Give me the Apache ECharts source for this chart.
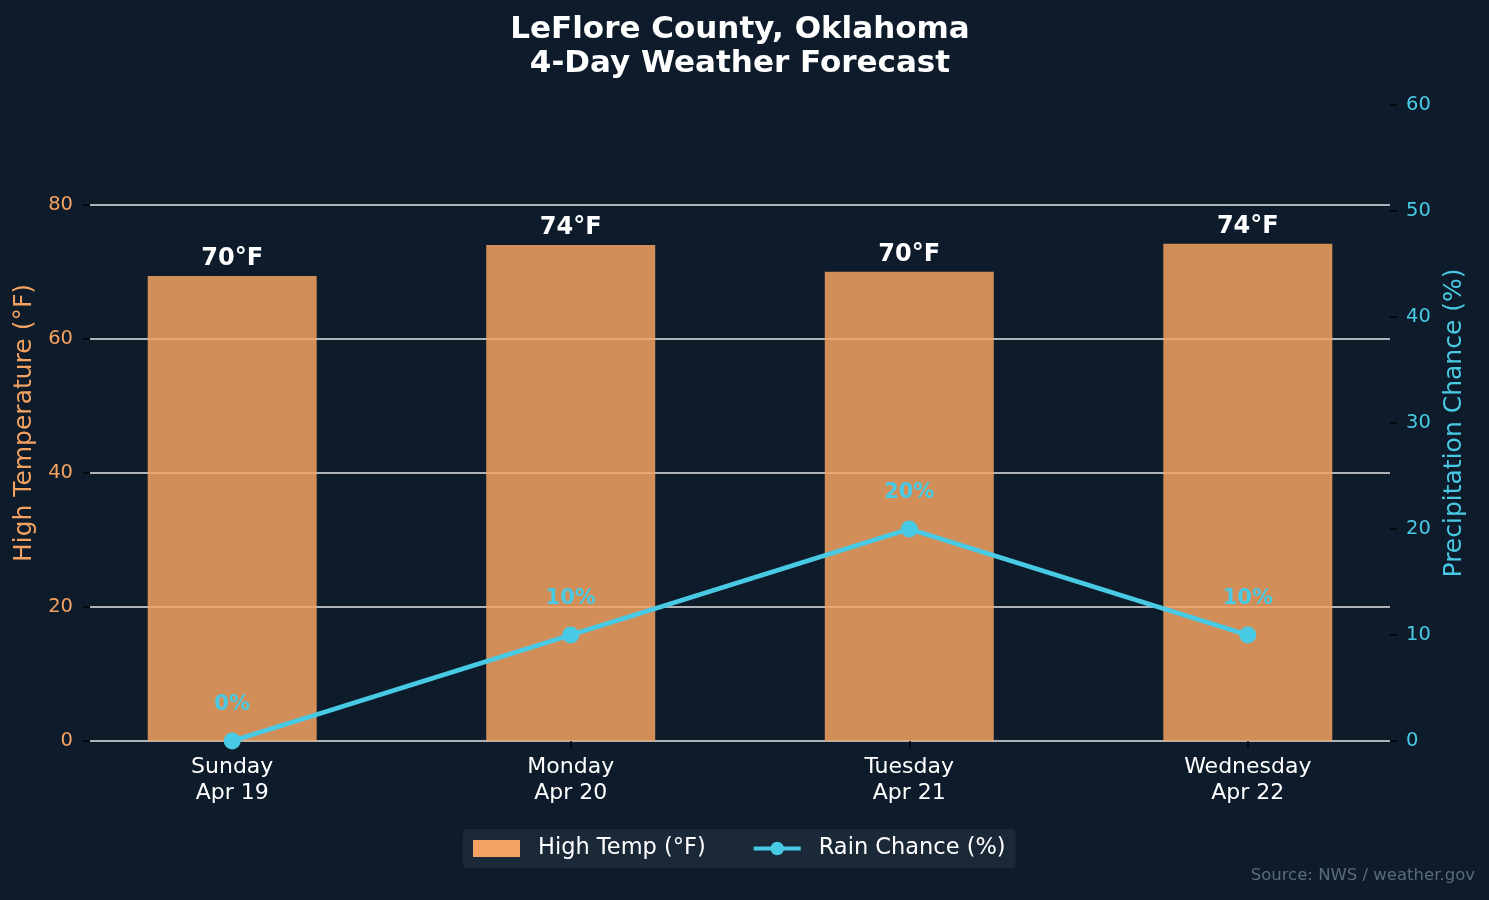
<!DOCTYPE html>
<html>
<head>
<meta charset="utf-8">
<script src="https://cdn.jsdelivr.net/npm/echarts@6/dist/echarts.min.js"></script>
<style>
  html, body { margin: 0; padding: 0; background: #0D1B2A; }
  #chart { width: 1489px; height: 900px; }
</style>
</head>
<body>
<div id="chart"></div>
<script>
const days = ["Sunday\nApr 19", "Monday\nApr 20", "Tuesday\nApr 21", "Wednesday\nApr 22"];
const highTemp = [69.4, 74.0, 70.0, 74.2];
const tempLabels = ["70°F", "74°F", "70°F", "74°F"];
const rainChance = [0, 10, 20, 10];
const tempTicks = [0, 20, 40, 60, 80];
const rainTicks = [0, 10, 20, 30, 40, 50, 60];

const font = "DejaVu Sans";
const orange = "#F4A261";
const cyan = "#48CAE4";

let myChart = echarts.init(document.getElementById("chart"));
let option = {
  backgroundColor: "#0D1B2A",
  textStyle: { fontFamily: font },
  title: {
    text: "LeFlore County, Oklahoma\n4-Day Weather Forecast",
    left: 740,
    textAlign: "center",
    top: 13,
    padding: 0,
    textStyle: { color: "#ffffff", fontSize: 31, fontWeight: "bold", lineHeight: 34, fontFamily: font }
  },
  legend: {
    bottom: 32,
    left: 463,
    orient: "horizontal",
    backgroundColor: "#1B2838",
    borderRadius: 4,
    padding: [8, 10, 8, 10],
    itemGap: 46,
    itemWidth: 47,
    itemHeight: 17,
    textStyle: { color: "#ffffff", fontSize: 22.5, fontFamily: font, padding: [0, 0, 0, 13] },
    data: [
      { name: "High Temp (°F)", icon: "rect", itemStyle: { color: orange, opacity: 1 } },
      { name: "Rain Chance (%)", lineStyle: { width: 4 } }
    ]
  },
  grid: { left: 90, right: 99, top: 105, bottom: 159 },
  xAxis: {
    type: "value",
    min: -0.42,
    max: 3.42,
    splitLine: { show: false },
    axisLine: { show: false, onZero: false },
    axisTick: { show: true, customValues: [0, 1, 2, 3], length: 7, lineStyle: { color: "#000000", width: 1.5 } },
    axisLabel: {
      customValues: [0, 1, 2, 3],
      formatter: v => days[Math.round(v)],
      color: "#ffffff",
      fontSize: 22,
      lineHeight: 26,
      margin: 13,
      fontFamily: font
    }
  },
  yAxis: [
    {
      type: "value",
      min: 0,
      max: 94.9,
      interval: 20,
      name: "High Temperature (°F)",
      nameLocation: "middle",
      nameGap: 51,
      nameTextStyle: { color: orange, fontSize: 25, fontFamily: font },
      axisLine: { show: false, onZero: false },
      axisTick: { show: true, customValues: tempTicks, length: 7, lineStyle: { color: "#000000", width: 1.5 } },
      axisLabel: { customValues: tempTicks, color: orange, fontSize: 19.5, margin: 17, fontFamily: font },
      splitLine: { show: true, lineStyle: { color: "#E4E4E4", width: 1.5 } }
    },
    {
      type: "value",
      min: 0,
      max: 60,
      interval: 10,
      name: "Precipitation Chance (%)",
      nameLocation: "middle",
      nameGap: 48,
      nameTextStyle: { color: cyan, fontSize: 25, fontFamily: font },
      axisLine: { show: false, onZero: false },
      axisTick: { show: true, customValues: rainTicks, length: 7, lineStyle: { color: "#000000", width: 1.5 } },
      axisLabel: { customValues: rainTicks, color: cyan, fontSize: 19.5, margin: 16, fontFamily: font },
      splitLine: { show: false }
    }
  ],
  series: [
    {
      name: "High Temp (°F)",
      type: "bar",
      yAxisIndex: 0,
      barWidth: 169,
      data: highTemp.map((v, i) => [i, v]),
      itemStyle: { color: "rgba(244,162,97,0.85)" },
      label: {
        show: true,
        position: "top",
        distance: 5,
        formatter: p => tempLabels[p.dataIndex],
        color: "#ffffff",
        textBorderWidth: 0,
        fontSize: 24,
        fontWeight: "bold",
        fontFamily: font
      },
      z: 2
    },
    {
      name: "Rain Chance (%)",
      type: "line",
      yAxisIndex: 1,
      data: rainChance.map((v, i) => [i, v]),
      symbol: "circle",
      symbolSize: 17,
      lineStyle: { color: cyan, width: 4.5 },
      itemStyle: { color: cyan },
      label: {
        show: true,
        position: "top",
        distance: 17,
        formatter: p => p.value[1] + "%",
        color: cyan,
        textBorderWidth: 0,
        fontSize: 21,
        fontWeight: "bold",
        fontFamily: font
      },
      z: 3
    }
  ],
  graphic: [
    {
      type: "text",
      right: 14,
      bottom: 16,
      style: { text: "Source: NWS / weather.gov", fill: "#5C6B7A", fontSize: 16.5, fontFamily: font }
    }
  ]
};
myChart.setOption(option);
</script>
</body>
</html>
